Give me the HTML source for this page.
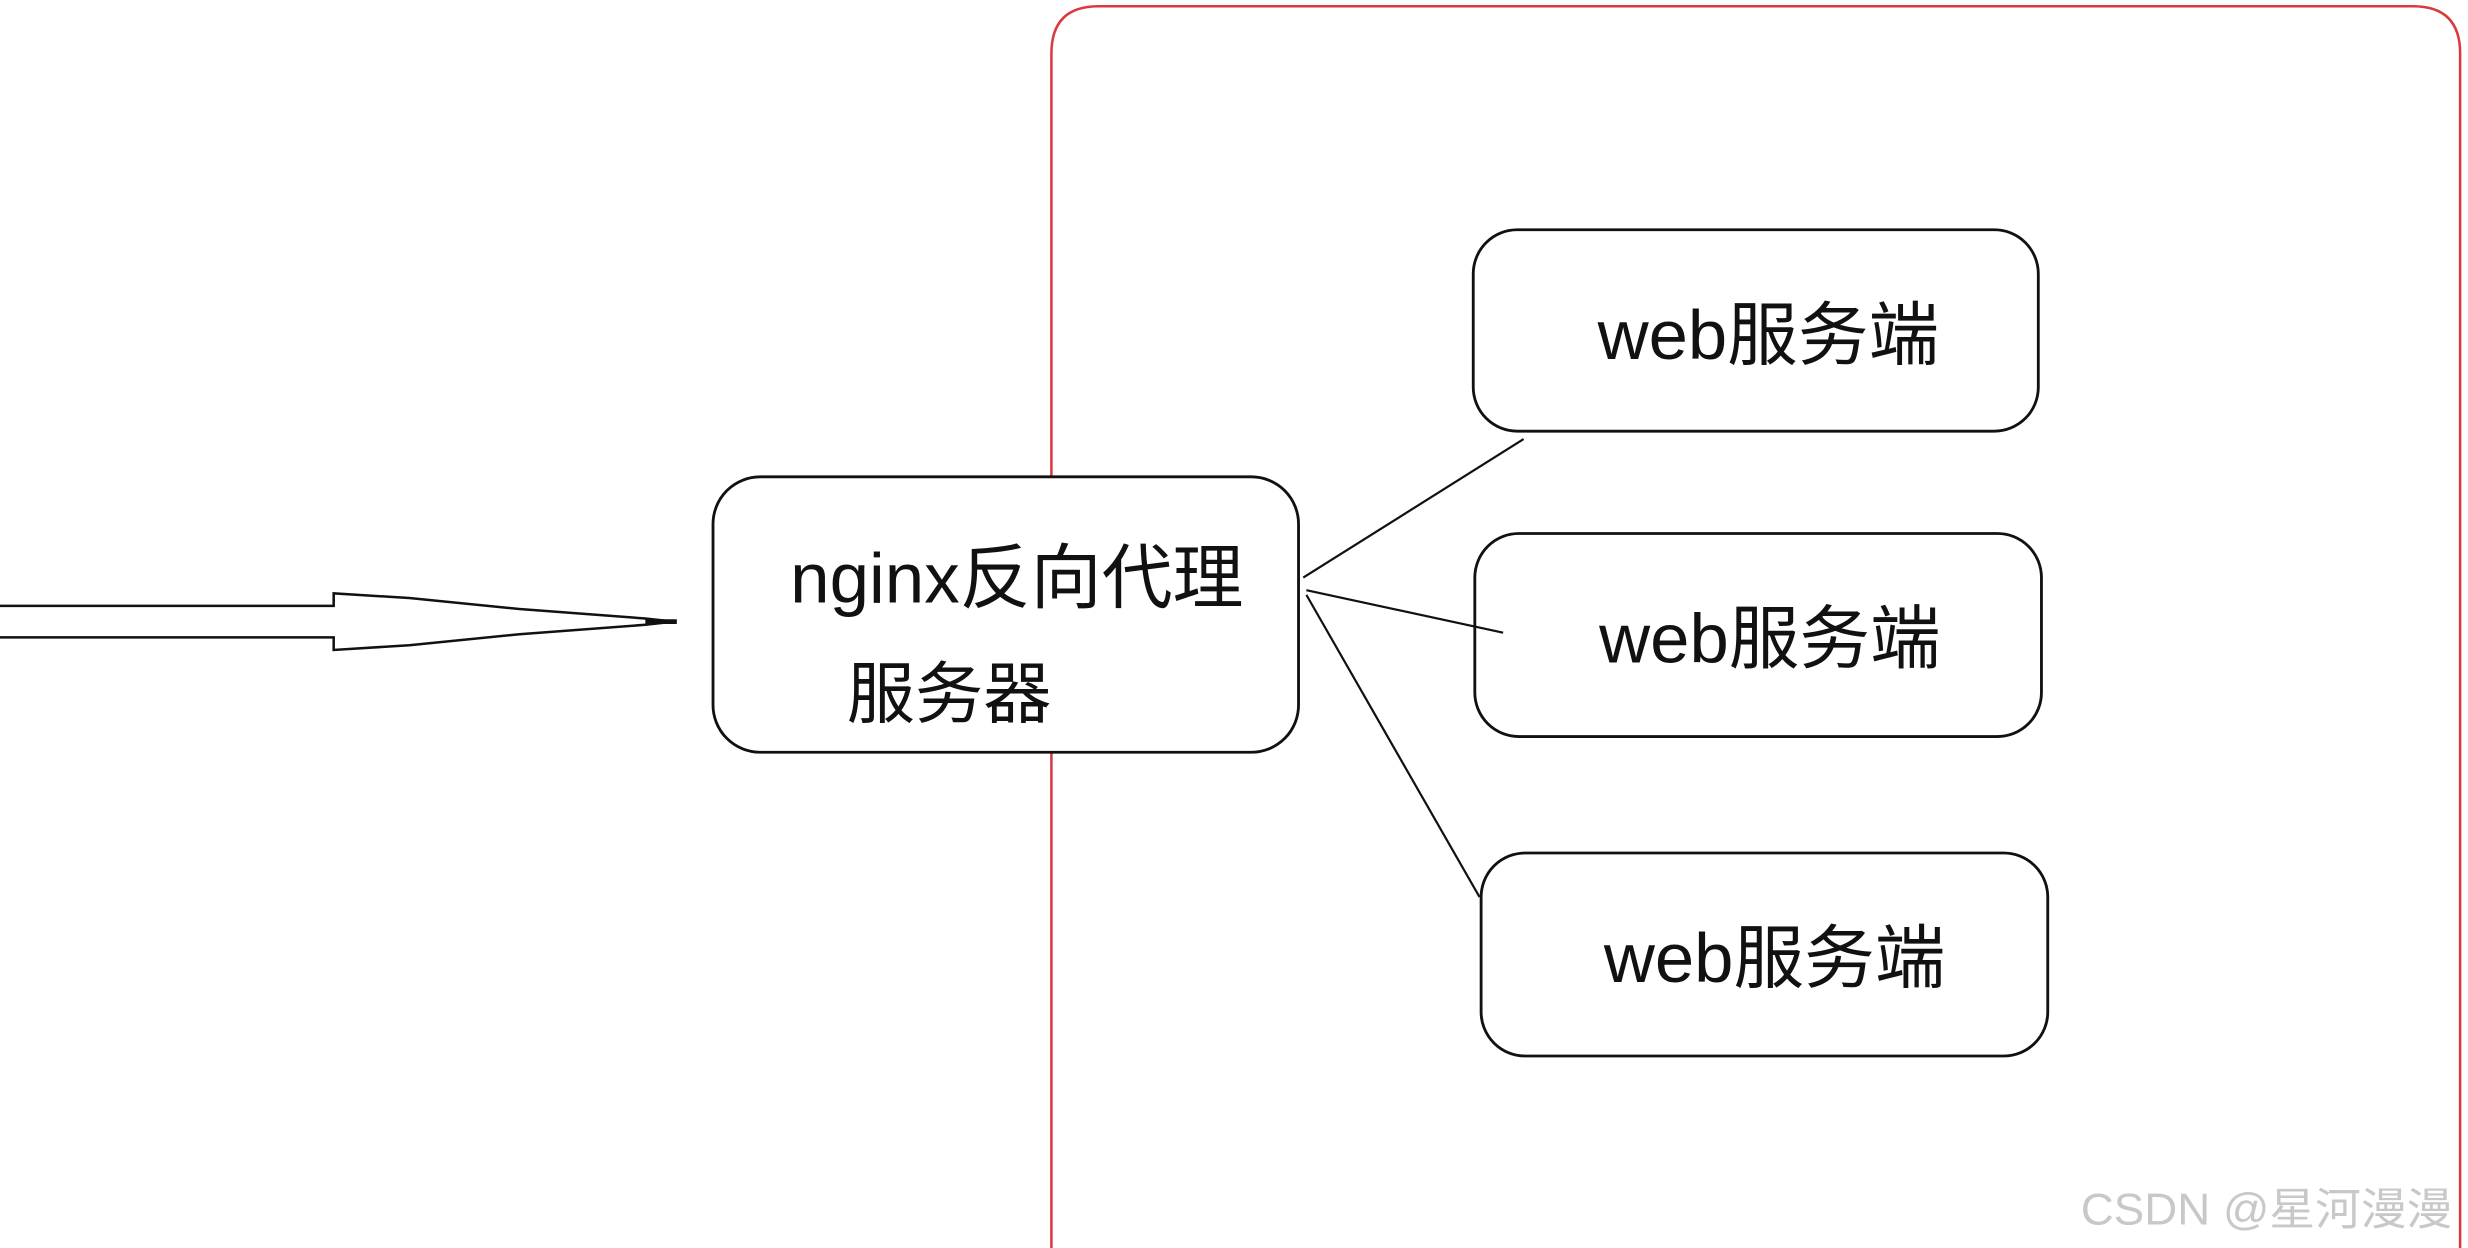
<!DOCTYPE html>
<html><head><meta charset="utf-8"><style>
html,body{margin:0;padding:0;background:#fff;width:2468px;height:1248px;overflow:hidden}
svg{display:block}
text{font-family:"Liberation Sans","Noto Sans CJK SC",sans-serif;fill:#111}
</style></head><body>
<svg width="2468" height="1248" viewBox="0 0 1568 793" preserveAspectRatio="none" xmlns="http://www.w3.org/2000/svg">
<rect x="0" y="0" width="1568" height="793" fill="#fff"/>
<path d="M668 793 L668 34 Q668 4 698 4 L1533 4 Q1563 4 1563 34 L1563 793" fill="none" stroke="#d9393f" stroke-width="1.6"/>
<g fill="#fff" stroke="#111" stroke-width="1.8">
<rect x="453" y="303" width="372" height="175" rx="30"/>
<rect x="936" y="146" width="359" height="128" rx="28"/>
<rect x="937" y="339" width="360" height="129" rx="28"/>
<rect x="941" y="542" width="360" height="129" rx="28"/>
</g>
<g stroke="#111" stroke-width="1.4" fill="none">
<line x1="828" y1="367" x2="968" y2="279"/>
<line x1="830" y1="375" x2="955" y2="402"/>
<line x1="830" y1="378" x2="940" y2="570"/>
<path d="M0 385 L212 385 L212 377 L260 380 L330 387 L410 393 L428 395 L410 397 L330 403 L260 410 L212 413 L212 405 L0 405" stroke-width="1.6"/>
<line x1="410" y1="395" x2="430" y2="395" stroke-width="3"/>
</g>
<text x="502" y="383" font-size="45" textLength="288" lengthAdjust="spacingAndGlyphs">nginx反向代理</text>
<text x="538" y="456" font-size="43" textLength="130" lengthAdjust="spacingAndGlyphs">服务器</text>
<text x="1015" y="228" font-size="44" textLength="217" lengthAdjust="spacingAndGlyphs">web服务端</text>
<text x="1016" y="421" font-size="44" textLength="217" lengthAdjust="spacingAndGlyphs">web服务端</text>
<text x="1019" y="624" font-size="44" textLength="217" lengthAdjust="spacingAndGlyphs">web服务端</text>
<text x="1322" y="778" font-size="28" textLength="236" lengthAdjust="spacingAndGlyphs" style="fill:#c8c8c8">CSDN @星河漫漫</text>
</svg>
</body></html>
